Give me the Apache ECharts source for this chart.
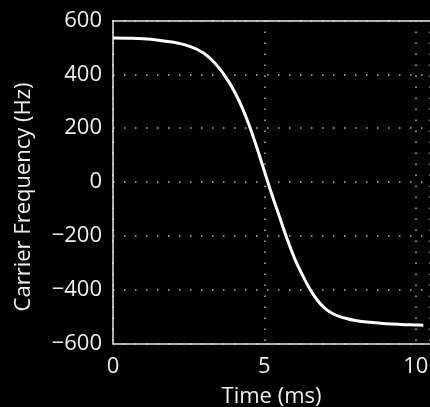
<!DOCTYPE html>
<html>
<head>
<meta charset="utf-8">
<script src="https://cdn.jsdelivr.net/npm/echarts@6/dist/echarts.min.js"></script>
<style>
html,body{margin:0;padding:0;background:#000;}
#c{width:430px;height:407px;}
</style>
</head>
<body>
<div id="c"></div>
<script>
const timeMs = [0, 0.5, 1.0, 1.5, 2.0, 2.25, 2.5, 2.75, 3.0, 3.25, 3.5, 3.75, 4.0, 4.25, 4.5, 4.75, 5.0, 5.25, 5.5, 5.75, 6.0, 6.25, 6.5, 6.75, 7.0, 7.25, 7.5, 7.75, 8.0, 8.5, 9.0, 9.5, 10.0, 10.25];
const freqHz = [535, 534, 532, 527, 519, 513, 505, 494, 478, 455, 424, 385, 338, 280, 210, 128, 40, -48, -130, -212, -285, -345, -398, -440, -470, -489, -501, -509, -515, -522, -527, -530, -532, -533];
const xTicks = [0, 5, 10];
const yTicks = [-600, -400, -200, 0, 200, 400, 600];
const xLabel = 'Time (ms)';
const yLabel = 'Carrier Frequency (Hz)';

const font = '"Open Sans", "Liberation Sans", sans-serif';
const chart = echarts.init(document.getElementById('c'), null, {renderer: 'canvas'});
const gridLine = {show: true, lineStyle: {color: '#bbb', width: 1.5, type: [1.5, 9.5]}};
const frame = {show: true, onZero: false, lineStyle: {color: '#e6e6e6', width: 1.5}};
chart.setOption({
  backgroundColor: '#000',
  animation: false,
  grid: {left: 113, top: 20.5, right: 0, bottom: 63.7, show: false, containLabel: false, outerBoundsMode: 'none'},
  xAxis: [{
    type: 'value', min: 0, max: 10.47, interval: 5,
    axisLine: frame,
    axisTick: {show: false},
    splitLine: gridLine,
    axisLabel: {color: '#eee', fontSize: 22, fontFamily: font, margin: 12,
      formatter: v => xTicks.includes(v) ? String(v) : ''},
    name: xLabel, nameLocation: 'middle', nameGap: 42,
    nameTextStyle: {color: '#eee', fontSize: 22, fontFamily: font}
  }, {
    type: 'value', position: 'top', min: 0, max: 10.47, interval: 5,
    axisLine: frame, axisTick: {show: false}, axisLabel: {show: false}, splitLine: {show: false}
  }],
  yAxis: {
    type: 'value', min: -600, max: 600, interval: 200,
    axisLine: frame,
    axisTick: {show: false},
    splitLine: gridLine,
    axisLabel: {color: '#eee', fontSize: 22, fontFamily: font, margin: 11,
      formatter: v => yTicks.includes(v) ? (v < 0 ? '\u2212' + Math.abs(v) : String(v)) : ''},
    name: yLabel, nameLocation: 'middle', nameGap: 78,
    nameTextStyle: {color: '#eee', fontSize: 22, fontFamily: font, padding: [0, 30, 0, 0]}
  },
  series: [{
    type: 'line',
    xAxisIndex: 0,
    data: timeMs.map((t, i) => [t, freqHz[i]]),
    smooth: 0.4,
    showSymbol: false,
    lineStyle: {color: '#fff', width: 3}
  }]
});
</script>
</body>
</html>
